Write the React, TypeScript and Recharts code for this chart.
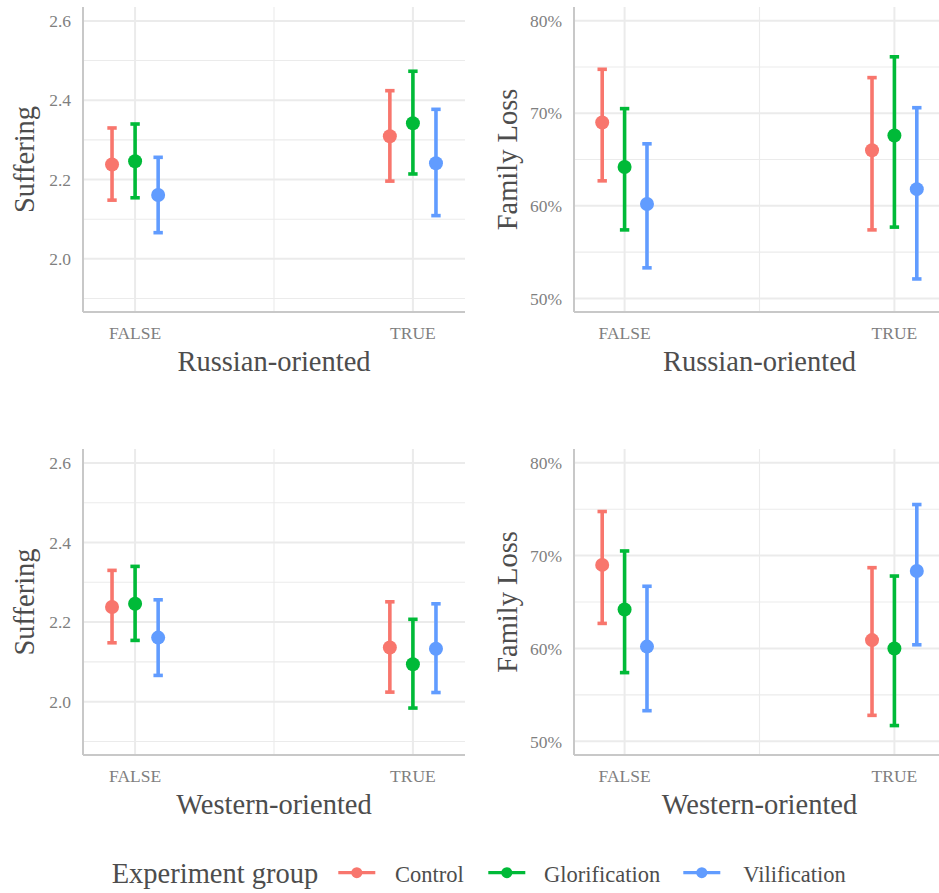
import React from 'react';
import { ScatterChart, Scatter, XAxis, YAxis, CartesianGrid, ErrorBar } from 'recharts';

const groups = ['Control', 'Glorification', 'Vilification'];
const groupColors = ['#F8766D', '#00BA38', '#619CFF'];
const orientationTicks = ['FALSE', 'TRUE'];

// rows: Control, Glorification, Vilification / columns: FALSE, TRUE
const sufferingRussianMean = [[2.238, 2.309], [2.246, 2.342], [2.161, 2.241]];
const sufferingRussianLow = [[2.148, 2.196], [2.154, 2.214], [2.066, 2.109]];
const sufferingRussianHigh = [[2.33, 2.424], [2.34, 2.473], [2.256, 2.377]];

const sufferingWesternMean = [[2.238, 2.136], [2.246, 2.094], [2.161, 2.133]];
const sufferingWesternLow = [[2.148, 2.024], [2.154, 1.984], [2.066, 2.023]];
const sufferingWesternHigh = [[2.33, 2.251], [2.34, 2.207], [2.256, 2.246]];

const familyRussianMean = [[0.69, 0.66], [0.642, 0.676], [0.602, 0.618]];
const familyRussianLow = [[0.627, 0.574], [0.574, 0.577], [0.533, 0.521]];
const familyRussianHigh = [[0.7475, 0.7385], [0.705, 0.761], [0.667, 0.706]];

const familyWesternMean = [[0.69, 0.609], [0.642, 0.6], [0.602, 0.6835]];
const familyWesternLow = [[0.627, 0.528], [0.574, 0.517], [0.533, 0.604]];
const familyWesternHigh = [[0.7475, 0.687], [0.705, 0.678], [0.667, 0.755]];

const sufferingTicks = [2.0, 2.2, 2.4, 2.6];
const sufferingMinor = [1.9, 2.1, 2.3, 2.5];
const familyTicks = [0.5, 0.6, 0.7, 0.8];
const familyMinor = [0.55, 0.65, 0.75];

const DODGE = 0.083;
const X_DOMAIN = [0.8125, 2.1875];
const FONT = '"Liberation Serif", "Times New Roman", serif';
const TICK_COLOR = '#7F7F7F';
const TITLE_COLOR = '#4D4D4D';
const GRID = '#EBEBEB';

const buildSeries = (mean: number[][], low: number[][], high: number[][]) =>
  groups.map((_, gi) =>
    orientationTicks.map((_, oi) => ({
      x: oi + 1 + (gi - 1) * DODGE,
      y: mean[gi][oi],
      err: [mean[gi][oi] - low[gi][oi], high[gi][oi] - mean[gi][oi]],
    }))
  );

const yTitle = (title: string, offset: number) => (props: any) => {
  const vb = props.viewBox || {};
  const cx = vb.x + vb.width - offset;
  const cy = vb.y + vb.height / 2;
  return (
    <text transform={`translate(${cx},${cy}) rotate(-90)`} textAnchor="middle"
      fontSize={28.5} fontFamily={FONT} fill={TITLE_COLOR}>{title}</text>
  );
};

const xTitle = (title: string) => (props: any) => {
  const vb = props.viewBox || {};
  return (
    <text x={vb.x + vb.width / 2} y={vb.y + 58.7} textAnchor="middle"
      fontSize={28.5} fontFamily={FONT} fill={TITLE_COLOR}>{title}</text>
  );
};

type PanelProps = {
  left: number; top: number; width: number; height: number; yAxisWidth: number;
  series: any[][]; yDomain: number[]; yTicks: number[]; yMinor: number[];
  yFormat: (v: number) => string; yLabel: string; yLabelOffset: number; xLabel: string;
};

function Panel(p: PanelProps) {
  return (
    <div style={{ position: 'absolute', left: p.left, top: p.top }}>
      <ScatterChart width={p.width} height={p.height} margin={{ top: 7, right: 5, bottom: 0, left: 0 }}>
        <CartesianGrid stroke={GRID} strokeWidth={1.1} horizontalValues={p.yMinor} verticalValues={[1.5]} />
        <CartesianGrid stroke={GRID} strokeWidth={2} horizontalValues={p.yTicks} verticalValues={[1, 2]} />
        <XAxis type="number" dataKey="x" domain={X_DOMAIN} ticks={[1, 2]} allowDataOverflow
          height={88} tickLine={false} tickSize={0} tickMargin={15}
          axisLine={{ stroke: '#C8C8C8', strokeWidth: 2 }}
          tickFormatter={(v: number) => orientationTicks[Math.round(v) - 1]}
          tick={{ fontSize: 17.5, fontFamily: FONT, fill: TICK_COLOR }}
          label={{ content: xTitle(p.xLabel) }} />
        <YAxis type="number" dataKey="y" domain={p.yDomain} ticks={p.yTicks} allowDataOverflow
          width={p.yAxisWidth} tickLine={false} tickSize={0} tickMargin={12}
          axisLine={{ stroke: '#C8C8C8', strokeWidth: 2 }}
          tickFormatter={p.yFormat}
          tick={{ fontSize: 17.5, fontFamily: FONT, fill: TICK_COLOR }}
          label={{ content: yTitle(p.yLabel, p.yLabelOffset) }} />
        {p.series.map((pts, gi) => (
          <Scatter key={groups[gi]} name={groups[gi]} data={pts} fill={groupColors[gi]}
            isAnimationActive={false}
            shape={(s: any) => <circle cx={s.cx} cy={s.cy} r={7} fill={groupColors[gi]} />}>
            <ErrorBar dataKey="err" direction="y" width={4.7} strokeWidth={3.6}
              stroke={groupColors[gi]} isAnimationActive={false} />
          </Scatter>
        ))}
      </ScatterChart>
    </div>
  );
}

const sufFmt = (v: number) => v.toFixed(1);
const pctFmt = (v: number) => `${Math.round(v * 100)}%`;

const legendKeys = [338.3, 488.3, 683.3];
const legendLabels = [395, 544, 743.3];

function Legend() {
  return (
    <svg width={939} height={43} style={{ position: 'absolute', left: 0, top: 850 }}>
      <text x={111.7} y={33.3} fontSize={28.5} fontFamily={FONT} fill={TITLE_COLOR}>Experiment group</text>
      {groups.map((g, i) => (
        <g key={g}>
          <line x1={legendKeys[i]} x2={legendKeys[i] + 37} y1={22.7} y2={22.7} stroke={groupColors[i]} strokeWidth={3.2} />
          <circle cx={legendKeys[i] + 18.5} cy={22.7} r={5.5} fill={groupColors[i]} />
          <text x={legendLabels[i]} y={31.7} fontSize={22.5} fontFamily={FONT} fill={TITLE_COLOR}>{g}</text>
        </g>
      ))}
    </svg>
  );
}

export default function App() {
  return (
    <div style={{ position: 'absolute', left: 0, top: 0, width: 939, height: 893, overflow: 'hidden', background: '#fff' }}>
      <Panel left={0} top={0} width={470} height={400} yAxisWidth={83}
        series={buildSeries(sufferingRussianMean, sufferingRussianLow, sufferingRussianHigh)}
        yDomain={[1.866, 2.635]} yTicks={sufferingTicks} yMinor={sufferingMinor} yFormat={sufFmt}
        yLabel="Suffering" yLabelOffset={49} xLabel="Russian-oriented" />
      <Panel left={470} top={0} width={480} height={400} yAxisWidth={104}
        series={buildSeries(familyRussianMean, familyRussianLow, familyRussianHigh)}
        yDomain={[0.4853, 0.8148]} yTicks={familyTicks} yMinor={familyMinor} yFormat={pctFmt}
        yLabel="Family Loss" yLabelOffset={57.3} xLabel="Russian-oriented" />
      <Panel left={0} top={442} width={470} height={401} yAxisWidth={83}
        series={buildSeries(sufferingWesternMean, sufferingWesternLow, sufferingWesternHigh)}
        yDomain={[1.866, 2.635]} yTicks={sufferingTicks} yMinor={sufferingMinor} yFormat={sufFmt}
        yLabel="Suffering" yLabelOffset={49} xLabel="Western-oriented" />
      <Panel left={470} top={442} width={480} height={401} yAxisWidth={104}
        series={buildSeries(familyWesternMean, familyWesternLow, familyWesternHigh)}
        yDomain={[0.4853, 0.8148]} yTicks={familyTicks} yMinor={familyMinor} yFormat={pctFmt}
        yLabel="Family Loss" yLabelOffset={57.3} xLabel="Western-oriented" />
      <Legend />
    </div>
  );
}
